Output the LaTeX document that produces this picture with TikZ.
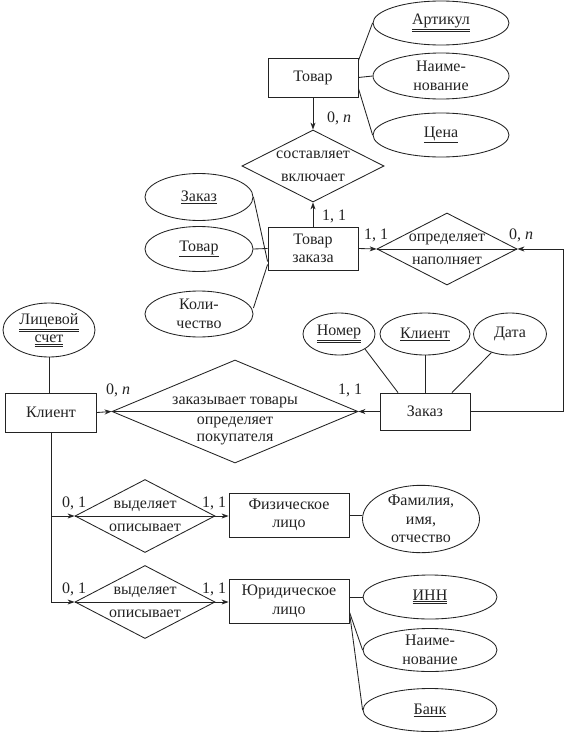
\documentclass[tikz,border=0pt]{standalone}
\usepackage{fontspec}
\setmainfont{Liberation Serif}
\usetikzlibrary{shapes.geometric,arrows.meta}
\definecolor{ink}{RGB}{35,35,35}
\newcommand{\dul}[1]{\underline{\underline{#1}}}
\begin{document}
\begin{tikzpicture}[x=1pt,y=-1pt,
  every node/.style={text=ink, font=\fontsize{16}{18.5}\selectfont, align=center},
  ent/.style={draw=ink, line width=0.85pt, rectangle, inner sep=0pt},
  attr/.style={draw=ink, line width=0.85pt, ellipse, inner sep=0pt},
  rel/.style={draw=ink, line width=0.85pt, diamond, inner sep=0pt},
  link/.style={draw=ink, line width=0.85pt},
  arr/.style={link, -{Stealth[length=7pt,width=5pt]}}]
\fill[white] (0,0) rectangle (565,736);
\useasboundingbox (0,0) rectangle (565,736);

% ---- Товар
\node[ent, minimum width=90pt, minimum height=39pt] (tovar) at (313,77.5) {Товар};
\node[attr, minimum width=136pt, minimum height=44pt] (artikul) at (441,23) {\dul{Артикул}};
\node[attr, minimum width=136pt, minimum height=46pt] (naim1) at (441,76) {Наиме-\\нование};
\node[attr, minimum width=136pt, minimum height=44pt] (cena) at (441,135) {\underline{Цена}};
\draw[link] ([yshift=-3pt]tovar.north east) -- (artikul.west);
\draw[link] (tovar.east) -- (naim1.west);
\draw[link] ([yshift=9pt]tovar.south east) -- (cena.west);

% ---- составляет / включает
\node[rel, minimum width=142pt, minimum height=72pt] (d1) at (313,166) {};
\node (d1a) at (313,155) {составляет};
\node (d1b) at (313,178) {включает};
\draw[arr] (tovar.south) -- (d1.north);
\node (l1) at (339,118) {0, \textit{n}};

% ---- Товар заказа
\node[ent, minimum width=90pt, minimum height=43pt] (tz) at (313,248.5) {Товар\\заказа};
\node[attr, minimum width=108pt, minimum height=47pt] (ezakaz) at (199,197) {\underline{Заказ}};
\node[attr, minimum width=108pt, minimum height=45pt] (etovar) at (199,249) {\underline{Товар}};
\node[attr, minimum width=108pt, minimum height=46pt] (ekol) at (199,314) {Коли-\\чество};
\draw[link] (ezakaz.east) -- ([yshift=-13pt]tz.west);
\draw[link] (etovar.east) -- (tz.west);
\draw[link] ([yshift=6pt]ekol.east) -- ([yshift=-16pt]tz.west);
\draw[arr] (tz.north) -- (d1.south);
\node (l2) at (334,216) {1, 1};

% ---- определяет / наполняет
\node[rel, minimum width=140pt, minimum height=72pt] (d2) at (447,249) {};
\draw[link] (d2.west) -- (d2.east);
\node (d2a) at (447,239) {определяет};
\node (d2b) at (447,261) {наполняет};
\draw[arr] (tz.east) -- (d2.west);
\node (l3) at (376,235) {1, 1};
\node (l4) at (521,235) {0, \textit{n}};

% ---- Заказ
\node[ent, minimum width=90pt, minimum height=37pt] (zakaz) at (425,411.5) {Заказ};
\node[attr, minimum width=72pt, minimum height=42pt] (nomer) at (339,334) {\dul{Номер}};
\node[attr, minimum width=90pt, minimum height=42pt] (eklient) at (425,334) {\underline{Клиент}};
\node[attr, minimum width=73pt, minimum height=42pt] (data) at (510,334) {Дата};
\draw[link] (nomer.-30) -- ([xshift=-27pt]zakaz.north);
\draw[link] (eklient.south) -- (zakaz.north);
\draw[link] (data.-135) -- ([xshift=27pt]zakaz.north);
\coordinate (rc1) at (563,411.5);
\coordinate (rc2) at (563,249);
\draw[arr] (zakaz.east) -- (rc1) -- (rc2) -- (d2.east);

% ---- Клиент
\node[ent, minimum width=91pt, minimum height=39pt] (klient) at (51,412.5) {Клиент};
\node[attr, minimum width=92pt, minimum height=54pt] (lic) at (49,330) {\dul{Лицевой}\\[-1pt]\dul{счет}};
\draw[link] (lic.south) -- (lic.south |- klient.north);

% ---- заказывает товары
\node[rel, minimum width=246pt, minimum height=103pt] (d3) at (235,411.5) {};
\draw[link] (d3.west) -- (d3.east);
\node (d3a) at (235,402) {заказывает товары};
\node (d3b) at (235,422) {определяет};
\node (d3c) at (235,439) {покупателя};
\draw[arr] (klient.east) -- (d3.west);
\draw[arr] (zakaz.west) -- (d3.east);
\node (l5) at (118,390) {0, \textit{n}};
\node (l6) at (350,390) {1, 1};

% ---- Физическое лицо
\node[rel, minimum width=140pt, minimum height=73pt] (d4) at (145,516) {};
\draw[link] (d4.west) -- (d4.east);
\node (d4a) at (145,506) {выделяет};
\node (d4b) at (145,528) {описывает};
\node[ent, minimum width=120pt, minimum height=44pt] (fiz) at (289,515) {Физическое\\лицо};
\node[attr, minimum width=117pt, minimum height=65pt] (fam) at (421,519) {Фамилия,\\имя,\\отчество};
\draw[link] (fiz.east) -- (fiz.east -| fam.west);
\coordinate (br1) at (klient.south |- d4.west);
\draw[link] (klient.south) -- (br1);
\draw[arr] (br1) -- (d4.west);
\draw[arr] (d4.east) -- (d4.east -| fiz.west);
\node (l7) at (74,503) {0, 1};
\node (l8) at (214,503) {1, 1};

% ---- Юридическое лицо
\node[rel, minimum width=140pt, minimum height=73pt] (d5) at (145,602) {};
\draw[link] (d5.west) -- (d5.east);
\node (d5a) at (145,592) {выделяет};
\node (d5b) at (145,614) {описывает};
\node[ent, minimum width=120pt, minimum height=44pt] (jur) at (289,601) {Юридическое\\лицо};
\node[attr, minimum width=134pt, minimum height=44pt] (inn) at (430,597) {\dul{ИНН}};
\node[attr, minimum width=134pt, minimum height=43pt] (naim2) at (430,650) {Наиме-\\нование};
\node[attr, minimum width=134pt, minimum height=43pt] (bank) at (430,710) {\underline{Банк}};
\draw[link] (jur.east |- inn.west) -- (inn.west);
\draw[link] ([yshift=-11pt]jur.east) -- (naim2.west);
\draw[link] ([yshift=-11pt]jur.east) -- (bank.west);
\coordinate (br2) at (klient.south |- d5.west);
\draw[arr] (br1) -- (br2) -- (d5.west);
\draw[arr] (d5.east) -- (d5.east -| jur.west);
\node (l9) at (74,589) {0, 1};
\node (l10) at (214,589) {1, 1};
\end{tikzpicture}
\end{document}
